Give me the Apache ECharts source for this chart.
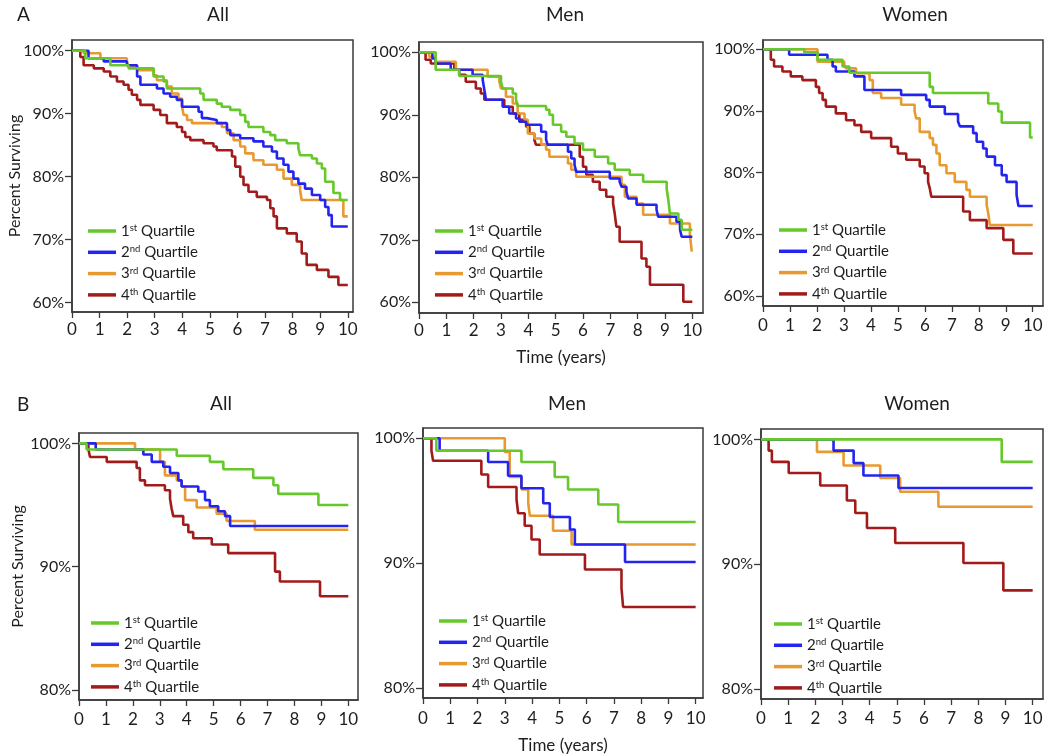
<!DOCTYPE html>
<html><head><meta charset="utf-8">
<script src="https://cdn.jsdelivr.net/npm/echarts@6/dist/echarts.min.js"></script>
<style>html,body{margin:0;padding:0;background:#fff}#c{width:1050px;height:756px}</style>
</head><body><div id="c"></div>
<script>
// ---------- labels ----------
const SERIES_NAMES = ['1st Quartile', '2nd Quartile', '3rd Quartile', '4th Quartile'];
const COLORS = ['#66c82a', '#2424f0', '#e89a30', '#a21b1b'];
const PANEL_TITLES = ['All', 'Men', 'Women'];
const ROW_LETTERS = ['A', 'B'];
const X_TICKS = [0, 1, 2, 3, 4, 5, 6, 7, 8, 9, 10];
const Y_TICKS_A = [60, 70, 80, 90, 100];
const Y_TICKS_B = [80, 90, 100];
const Y_NAME = 'Percent Surviving';
const X_NAME = 'Time (years)';

// ---------- data: [time (years), percent surviving] ----------
// Row A — All
const A_ALL_Q1 = [[0,100],[0.48,98.8],[1.39,97.7],[2.05,97.2],[2.96,95.9],[3.32,95.1],[3.44,94.0],[4.65,93.2],[4.77,92.2],[5.25,91.6],[5.43,91.1],[5.74,90.6],[6.10,89.8],[6.28,88.7],[6.40,87.9],[6.94,87.1],[7.19,86.6],[7.37,85.8],[7.79,85.3],[8.21,84.5],[8.27,83.4],[8.70,82.9],[8.88,82.1],[9.06,81.3],[9.18,79.2],[9.48,77.4],[9.72,76.3],[10,76.3]];
const A_ALL_Q2 = [[0,100],[0.60,98.8],[1.15,98.3],[1.99,97.7],[2.36,95.9],[2.48,94.6],[3.08,94.0],[3.32,93.2],[3.56,92.7],[3.80,92.2],[3.99,91.1],[4.59,90.3],[4.71,89.3],[4.89,89.0],[5.25,88.5],[5.62,87.4],[5.74,86.6],[6.10,86.1],[6.58,85.6],[6.94,84.8],[7.25,84.0],[7.43,82.9],[7.67,81.9],[7.85,80.8],[8.03,79.7],[8.21,78.9],[8.45,78.1],[8.70,77.1],[9.00,76.3],[9.18,75.2],[9.30,73.9],[9.42,72.1],[10,72.1]];
const A_ALL_Q3 = [[0,100],[0.42,99.6],[1.03,98.8],[1.99,98.3],[2.05,97.5],[2.36,96.9],[2.96,96.1],[3.08,95.3],[3.44,94.3],[3.62,93.2],[3.86,92.4],[3.99,91.1],[4.05,89.8],[4.17,89.0],[4.35,88.5],[5.43,87.9],[5.62,86.9],[5.86,85.8],[6.10,84.8],[6.28,83.7],[6.58,82.6],[6.94,81.9],[7.43,81.1],[7.67,79.7],[7.97,78.7],[8.27,77.9],[8.33,76.3],[9.84,73.7],[10,73.7]];
const A_ALL_Q4 = [[0,100],[0.30,99.0],[0.42,97.7],[0.79,97.2],[1.15,96.7],[1.39,95.9],[1.63,95.1],[1.87,94.6],[2.05,93.8],[2.17,93.0],[2.36,92.2],[2.48,91.4],[2.96,90.6],[3.20,89.8],[3.44,88.5],[3.80,87.9],[3.99,87.1],[4.11,86.3],[4.29,85.8],[4.77,85.3],[5.13,84.8],[5.25,84.2],[5.80,83.2],[5.92,81.6],[6.10,80.0],[6.22,78.7],[6.40,77.6],[6.70,76.8],[7.07,76.3],[7.19,75.0],[7.31,73.7],[7.43,71.8],[7.79,71.0],[8.15,69.7],[8.33,67.8],[8.51,66.0],[8.88,65.2],[9.30,64.1],[9.66,62.8],[10,62.8]];
// Row A — Men
const A_MEN_Q1 = [[0,100],[0.61,97.2],[1.47,96.2],[3.00,95.3],[3.06,94.2],[3.43,93.4],[3.55,92.4],[3.61,91.4],[4.65,90.8],[4.77,90.0],[4.90,88.4],[5.20,87.3],[5.39,86.5],[5.69,85.4],[6.00,84.4],[6.43,83.3],[6.92,82.2],[7.16,81.2],[7.71,80.4],[8.20,79.3],[9.06,78.2],[9.12,76.4],[9.18,74.2],[9.49,73.2],[9.61,71.6],[10,71.6]];
const A_MEN_Q2 = [[0,100],[0.49,99.0],[0.61,98.2],[1.16,97.2],[1.96,96.4],[2.33,95.6],[2.39,94.0],[2.45,92.4],[3.06,91.3],[3.30,90.2],[3.55,89.4],[3.67,88.9],[3.92,88.4],[4.47,87.3],[4.65,86.0],[4.71,85.2],[5.45,84.1],[5.57,83.0],[5.69,82.0],[5.75,80.9],[6.98,79.8],[7.34,79.3],[7.41,78.5],[7.59,77.7],[7.65,76.6],[7.96,75.6],[8.69,74.8],[8.75,73.7],[9.42,72.9],[9.55,71.6],[9.61,70.5],[10,70.5]];
const A_MEN_Q3 = [[0,100],[0.37,99.3],[0.61,98.5],[1.35,97.2],[2.51,96.1],[2.94,95.3],[3.00,94.2],[3.18,92.9],[3.43,91.8],[3.61,90.2],[3.86,89.2],[3.98,87.0],[4.22,86.2],[4.47,85.2],[4.65,84.4],[4.77,83.3],[5.45,82.2],[5.57,81.2],[5.75,80.1],[7.41,78.8],[7.53,76.9],[7.96,75.8],[8.20,74.0],[9.18,72.6],[9.91,70.8],[9.98,68.1],[10,68.1]];
const A_MEN_Q4 = [[0,100],[0.24,98.8],[0.43,98.2],[1.29,97.2],[1.47,96.4],[1.71,95.3],[2.08,94.2],[2.26,93.4],[2.39,92.4],[3.12,91.3],[3.43,90.2],[3.67,89.2],[3.92,88.1],[4.04,87.0],[4.22,86.0],[4.28,85.2],[5.88,83.3],[6.00,81.7],[6.12,80.4],[6.36,79.3],[6.61,78.0],[6.85,76.9],[7.10,75.8],[7.16,74.2],[7.22,72.1],[7.34,69.7],[8.14,67.0],[8.32,65.7],[8.45,62.8],[9.67,60.1],[10,60.1]];
// Row A — Women
const A_WOM_Q1 = [[0,100],[1.53,99.5],[2.02,98.3],[2.95,97.2],[3.20,96.2],[6.18,93.9],[6.30,92.9],[8.35,91.2],[8.72,89.9],[8.85,88.1],[9.90,85.7],[10,85.7]];
const A_WOM_Q2 = [[0,100],[0.97,99.1],[2.39,98.3],[2.58,97.2],[2.70,96.4],[3.39,95.6],[3.76,93.4],[5.12,92.6],[6.05,91.8],[6.18,90.7],[6.74,89.5],[7.23,88.3],[7.30,87.5],[7.79,86.4],[7.92,85.0],[8.16,83.9],[8.29,82.6],[8.60,81.2],[8.85,79.6],[9.03,78.5],[9.40,76.4],[9.47,74.6],[10,74.6]];
const A_WOM_Q3 = [[0,100],[2.02,98.0],[3.01,97.5],[3.08,96.9],[3.45,96.1],[3.95,95.0],[4.07,92.9],[4.38,92.1],[5.12,91.0],[5.62,89.9],[5.68,88.8],[5.81,86.6],[6.18,85.6],[6.30,84.5],[6.43,83.1],[6.55,81.2],[6.80,79.9],[7.11,78.5],[7.54,77.2],[7.67,76.1],[8.29,74.8],[8.35,73.4],[8.41,71.5],[10,71.5]];
const A_WOM_Q4 = [[0,100],[0.29,98.3],[0.41,97.2],[0.72,96.4],[1.03,95.6],[1.46,95.0],[1.96,93.9],[2.08,92.9],[2.21,91.8],[2.33,90.7],[2.70,89.6],[3.08,88.5],[3.39,87.7],[3.64,86.6],[4.01,85.6],[4.75,84.2],[5.00,83.1],[5.31,82.1],[5.81,81.0],[5.99,79.9],[6.12,78.5],[6.18,77.5],[6.24,76.1],[7.42,73.7],[7.67,72.3],[8.29,71.0],[8.91,69.1],[9.28,66.9],[10,66.9]];
// Row B — All
const B_ALL_Q1 = [[0,100],[0.28,99.5],[3.63,99.0],[4.86,98.5],[5.36,97.9],[6.47,97.2],[7.22,96.6],[7.40,95.9],[8.89,95.0],[10,95.0]];
const B_ALL_Q2 = [[0,100],[0.62,99.5],[2.39,99.1],[2.70,98.5],[3.13,98.1],[3.38,97.6],[3.69,97.0],[3.81,96.5],[4.43,96.1],[4.68,95.4],[4.86,94.9],[5.17,94.5],[5.42,94.1],[5.61,93.3],[10,93.3]];
const B_ALL_Q3 = [[0,100],[2.08,99.5],[3.01,98.5],[3.19,97.4],[3.63,97.0],[3.81,96.5],[3.94,95.4],[4.37,94.8],[5.11,94.3],[5.48,93.7],[6.53,93.0],[10,93.0]];
const B_ALL_Q4 = [[0,100],[0.35,99.5],[0.41,98.9],[1.03,98.5],[2.14,98.0],[2.26,97.0],[2.45,96.6],[3.19,96.2],[3.38,95.5],[3.44,94.7],[3.50,94.1],[3.87,93.4],[4.06,92.8],[4.24,92.3],[4.93,91.8],[5.54,91.1],[7.28,89.6],[7.46,88.8],[8.95,87.6],[10,87.6]];
// Row B — Men
const B_MEN_Q1 = [[0,100],[0.49,99.0],[3.61,98.1],[4.83,96.9],[5.32,95.9],[6.43,94.7],[7.16,93.3],[10,93.3]];
const B_MEN_Q2 = [[0,100],[0.61,99.0],[2.39,98.1],[3.12,97.0],[3.61,96.0],[4.41,94.8],[4.65,93.7],[5.39,92.7],[5.57,91.5],[7.41,90.1],[10,90.1]];
const B_MEN_Q3 = [[0,100],[3.00,98.9],[3.18,96.9],[3.61,95.9],[3.86,94.8],[3.92,93.8],[4.77,92.6],[5.45,91.5],[10,91.5]];
const B_MEN_Q4 = [[0,100],[0.31,99.0],[0.37,98.2],[2.14,97.1],[2.39,96.1],[3.43,95.1],[3.49,94.0],[3.73,93.0],[3.98,91.9],[4.28,90.7],[5.94,89.5],[7.28,88.0],[7.34,86.5],[10,86.5]];
// Row B — Women
const B_WOM_Q1 = [[0,100],[8.86,98.2],[10,98.2]];
const B_WOM_Q2 = [[0,100],[2.67,99.1],[3.41,98.1],[3.77,97.1],[5.06,96.1],[10,96.1]];
const B_WOM_Q3 = [[0,100],[2.06,99.0],[3.04,97.9],[4.39,96.9],[5.12,95.8],[6.53,94.6],[10,94.6]];
const B_WOM_Q4 = [[0,100],[0.28,99.1],[0.40,98.2],[1.02,97.3],[2.18,96.3],[3.16,95.1],[3.47,94.1],[3.90,92.9],[4.94,91.7],[7.45,90.1],[8.92,87.9],[10,87.9]];

const PANEL_DATA = [
  [A_ALL_Q1, A_ALL_Q2, A_ALL_Q3, A_ALL_Q4],
  [A_MEN_Q1, A_MEN_Q2, A_MEN_Q3, A_MEN_Q4],
  [A_WOM_Q1, A_WOM_Q2, A_WOM_Q3, A_WOM_Q4],
  [B_ALL_Q1, B_ALL_Q2, B_ALL_Q3, B_ALL_Q4],
  [B_MEN_Q1, B_MEN_Q2, B_MEN_Q3, B_MEN_Q4],
  [B_WOM_Q1, B_WOM_Q2, B_WOM_Q3, B_WOM_Q4]
];

// ---------- layout (positions / styles) ----------
const FONT = 'Lato, "Open Sans", sans-serif';
const TXT = '#1e1e1e';
const LAYOUT = [
  {left:72,  top:40,  width:281, height:272, xMax:10.19, yMin:58.52, yMax:101.7,  row:0, col:0, legendLeft:83,  legendTop:218, lblMargin:9},
  {left:419, top:42,  width:284, height:271, xMax:10.39, yMin:58.29, yMax:101.65, row:0, col:1, legendLeft:430, legendTop:218, lblMargin:9},
  {left:763, top:40,  width:280, height:266, xMax:10.38, yMin:58.38, yMax:101.5,  row:0, col:2, legendLeft:774, legendTop:217, lblMargin:11},
  {left:79,  top:433, width:279, height:267, xMax:10.36, yMin:79.19, yMax:100.84, row:1, col:0, legendLeft:86,  legendTop:610, lblMargin:11},
  {left:423, top:428, width:280, height:270, xMax:10.27, yMin:79.22, yMax:100.82, row:1, col:1, legendLeft:434, legendTop:608, lblMargin:12},
  {left:761, top:429, width:282, height:270, xMax:10.38, yMin:79.2,  yMax:100.83, row:1, col:2, legendLeft:769, legendTop:611, lblMargin:11}
];

const grid = [], xAxis = [], yAxis = [], series = [], legend = [];
LAYOUT.forEach((L, i) => {
  grid.push({left:L.left, top:L.top, width:L.width, height:L.height, show:true,
    borderColor:'#3a3a3a', borderWidth:1.5, backgroundColor:'transparent'});
  xAxis.push({type:'value', gridIndex:i, min:0, max:L.xMax,
    name: L.col === 1 ? X_NAME : '', nameLocation:'middle', nameGap: L.row === 0 ? 45 : 48,
    nameMoveOverlap:false,
    nameTextStyle:{fontSize:17, color:TXT, fontFamily:FONT, verticalAlign:'middle'},
    axisLine:{show:true, onZero:false, lineStyle:{color:'#3a3a3a', width:1.5}},
    axisTick:{show:true, length:6, customValues:X_TICKS, lineStyle:{color:'#3a3a3a', width:1.3}},
    axisLabel:{customValues:X_TICKS, fontSize:17, color:TXT, fontFamily:FONT, margin:L.lblMargin},
    splitLine:{show:false}});
  const yt = L.row === 0 ? Y_TICKS_A : Y_TICKS_B;
  yAxis.push({type:'value', gridIndex:i, min:L.yMin, max:L.yMax,
    name: L.col === 0 ? Y_NAME : '', nameLocation:'middle', nameGap: L.row === 0 ? 57 : 61, nameRotate:90,
    nameMoveOverlap:false,
    nameTextStyle:{fontSize:16, color:TXT, fontFamily:FONT, verticalAlign:'middle'},
    axisLine:{show:true, onZero:false, lineStyle:{color:'#3a3a3a', width:1.5}},
    axisTick:{show:true, length:7, customValues:yt, lineStyle:{color:'#3a3a3a', width:1.3}},
    axisLabel:{customValues:yt, formatter:'{value}%', fontSize:16, color:TXT, fontFamily:FONT, margin:8},
    splitLine:{show:false}});
  PANEL_DATA[i].forEach((d, k) => {
    series.push({type:'line', name:SERIES_NAMES[k], xAxisIndex:i, yAxisIndex:i, data:d,
      step:'end', showSymbol:false, symbol:'none', silent:true, animation:false,
      lineStyle:{color:COLORS[k], width:2.6}, itemStyle:{color:COLORS[k]}, z: 10 - k});
  });
  legend.push({data:SERIES_NAMES, orient:'vertical', left:L.legendLeft, top:L.legendTop,
    icon:'rect', itemWidth:28, itemHeight:3.5, itemGap:5.3, selectedMode:false,
    formatter: n => n.replace(/^(\d)(st|nd|rd|th) /, '$1{s|$2} '),
    textStyle:{fontSize:15, color:TXT, fontFamily:FONT, lineHeight:14,
      rich:{s:{fontSize:9.5, fontFamily:FONT, color:TXT, padding:[0,0,6,0], lineHeight:14}}}});
});

const title = [];
ROW_LETTERS.forEach((t, r) => {
  title.push({text:t, left:12, top: r === 0 ? 0 : 390, textStyle:{fontSize:19, fontWeight:'normal', color:TXT, fontFamily:FONT}});
});
const TITLE_X = [[213, 560, 910], [216, 562, 912]];
const TITLE_Y = [0, 389];
PANEL_TITLES.forEach((t, c) => {
  [0, 1].forEach(r => {
    title.push({text:t, left:TITLE_X[r][c], top:TITLE_Y[r], textAlign:'center',
      textStyle:{fontSize:19, fontWeight:'normal', color:TXT, fontFamily:FONT}});
  });
});

const chart = echarts.init(document.getElementById('c'), null, {renderer:'canvas'});
chart.setOption({animation:false, backgroundColor:'#fff', title, grid, xAxis, yAxis, series, legend});
</script>
</body></html>
